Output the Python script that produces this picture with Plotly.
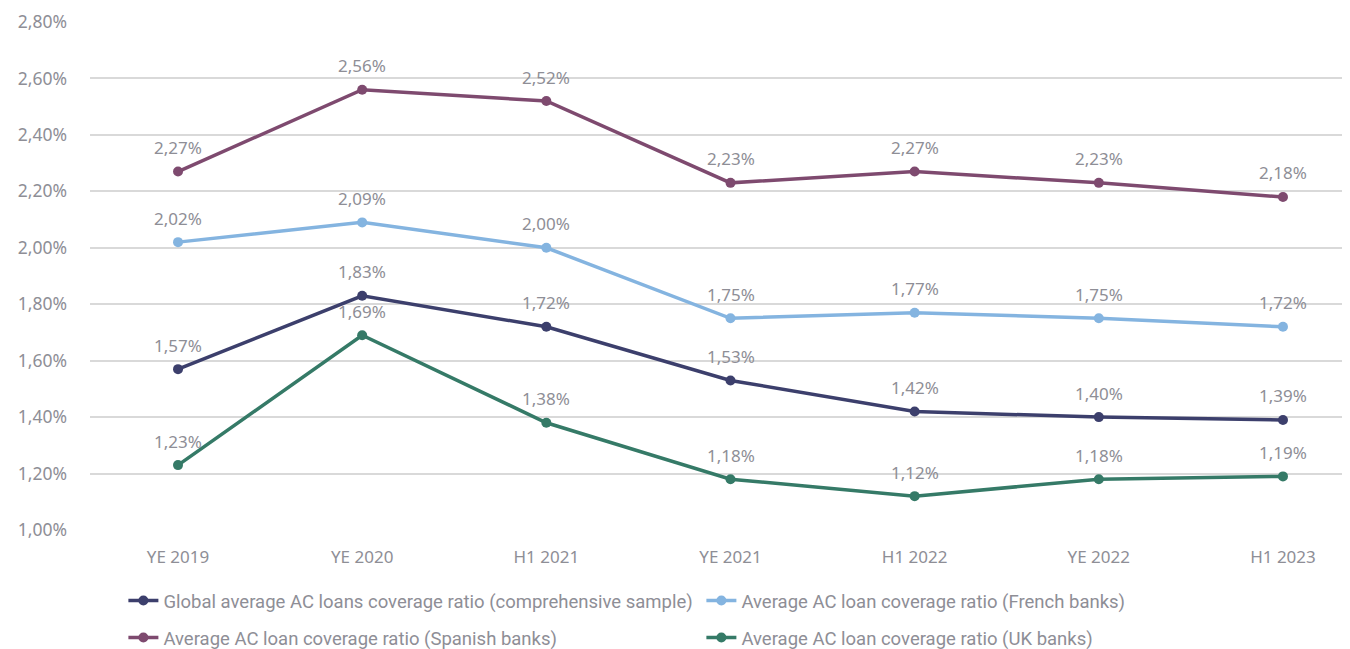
import plotly.graph_objects as go

categories = ["YE 2019", "YE 2020", "H1 2021", "YE 2021", "H1 2022", "YE 2022", "H1 2023"]

global_avg = [1.57, 1.83, 1.72, 1.53, 1.42, 1.40, 1.39]
french = [2.02, 2.09, 2.00, 1.75, 1.77, 1.75, 1.72]
spanish = [2.27, 2.56, 2.52, 2.23, 2.27, 2.23, 2.18]
uk = [1.23, 1.69, 1.38, 1.18, 1.12, 1.18, 1.19]

# (name, values, colour, legend row)
series = [
    ("Global average AC loans coverage ratio (comprehensive sample)", global_avg, "#3c3f6c", "legend"),
    ("Average AC loan coverage ratio (French banks)", french, "#84b4e0", "legend"),
    ("Average AC loan coverage ratio (Spanish banks)", spanish, "#7e4a6f", "legend2"),
    ("Average AC loan coverage ratio (UK banks)", uk, "#357a67", "legend2"),
]

GREY = "#8e8e96"
FONT = "Noto Sans, sans-serif"
W, H = 1342, 641  # page body has an 8px margin


def fmt(v):
    return f"{v:.2f}".replace(".", ",") + "%"


fig = go.Figure()
annotations = []
for name, vals, color, leg in series:
    fig.add_trace(
        go.Scatter(
            x=list(range(len(categories))),
            y=vals,
            mode="lines+markers",
            name=name,
            legend=leg,
            line=dict(color=color, width=3.5),
            marker=dict(size=10, color=color),
        )
    )
    # value labels above each point
    for i, v in enumerate(vals):
        annotations.append(
            dict(
                x=i, y=v, text=fmt(v), showarrow=False, yshift=24,
                font=dict(family=FONT, size=17, color=GREY),
            )
        )

legend_common = dict(
    orientation="h",
    x=0.0265,
    xanchor="left",
    yanchor="middle",
    yref="container",
    entrywidth=533,
    entrywidthmode="pixels",
    font=dict(family="Roboto, sans-serif", size=18.5, color=GREY),
    itemwidth=30,
)

fig.update_layout(
    width=W,
    height=H,
    margin=dict(l=82, r=0, t=14, b=119),
    plot_bgcolor="white",
    paper_bgcolor="white",
    font=dict(family=FONT, color=GREY),
    annotations=annotations,
    showlegend=True,
    legend=dict(legend_common, y=1 - 593 / H),
    legend2=dict(legend_common, y=1 - 630 / H),
    xaxis=dict(
        range=[-0.478, 6.364],
        tickmode="array",
        tickvals=list(range(len(categories))),
        ticktext=categories,
        showgrid=False,
        zeroline=False,
        showline=False,
        ticks="",
        tickfont=dict(size=17, color=GREY),
        ticklabelstandoff=15,
    ),
    yaxis=dict(
        range=[1.0, 2.8],
        dtick=0.2,
        tickformat=".2f",
        ticksuffix="%",
        showgrid=True,
        gridcolor="#d9d9d9",
        gridwidth=1.5,
        zeroline=False,
        showline=False,
        tickfont=dict(size=17.5, color=GREY),
        ticklabelstandoff=22,
    ),
    separators=",.",
)

fig.write_html("out.html")
